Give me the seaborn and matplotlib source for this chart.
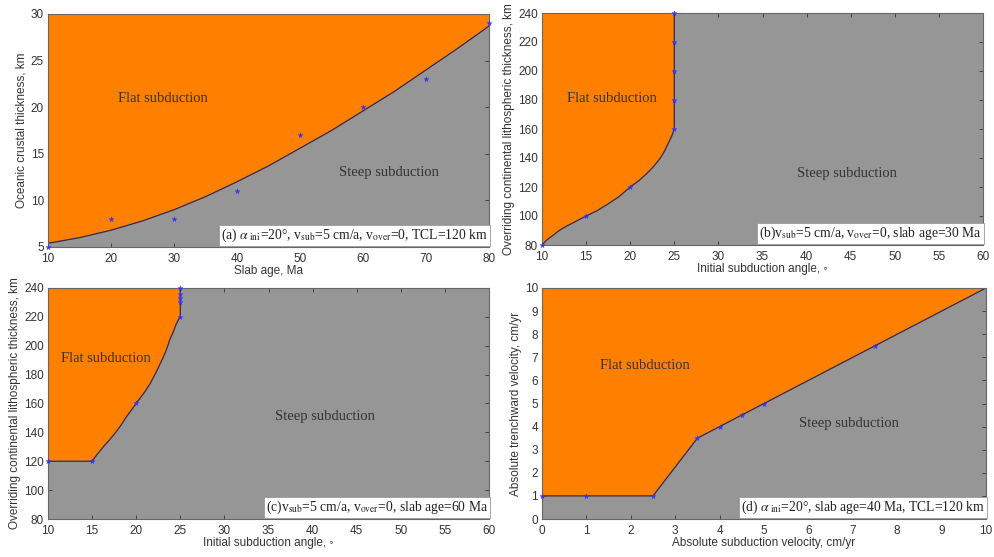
import numpy as np
import pandas as pd
import matplotlib
matplotlib.use("Agg")
import matplotlib.pyplot as plt
import seaborn as sns

sns.set_style("ticks")
plt.rcParams["font.family"] = ["Liberation Sans", "DejaVu Sans"]
plt.rcParams["mathtext.fontset"] = "stix"

ORANGE = "#ff8000"
GREY = "#969696"
LINE = "#2a2a60"
STAR = "#3333ff"

# (a) slab age vs oceanic crust thickness
a_age = [10, 20, 30, 40, 50, 60, 70, 80]
a_thick = [5, 8, 8, 11, 17, 20, 23, 29]
a_fit_x = [10, 15, 20, 25, 30, 35, 40, 45, 50, 55, 60, 65, 70, 75, 80]
a_fit_y = [5.4, 6.0, 6.8, 7.8, 9.0, 10.4, 12.0, 13.7, 15.6, 17.5, 19.6, 21.7, 24.0, 26.3, 28.7]

# (b) initial angle vs overriding lithosphere thickness, slab age 30 Ma
b_ang = [10, 15, 20, 25, 25, 25, 25, 25]
b_thick = [80, 100, 120, 160, 180, 200, 220, 240]
b_fit_x = [10, 10.6, 11.3, 12.0, 12.8, 13.9, 15, 16.2, 17.3, 18.7, 20, 21.0, 21.9, 22.7, 23.4, 23.9, 24.3, 24.7, 25, 25]
b_fit_y = [80, 83.8, 86.9, 90.2, 93.1, 96.5, 100, 103.5, 107.6, 113.2, 120, 124.5, 129.4, 134.5, 139.8, 144.8, 150, 155, 160, 240]

# (c) same, slab age 60 Ma
c_ang = [10, 15, 20, 25, 25, 25, 25, 25]
c_thick = [120, 120, 160, 220, 230, 233, 236, 240]
c_fit_x = [10, 15, 15.6, 16.3, 17.0, 17.6, 18.3, 18.9, 19.5, 20, 20.5, 21.0, 21.6, 22.1, 22.6, 23.1, 23.5, 23.8, 24.2, 24.5, 24.8, 25, 25]
c_fit_y = [120, 120, 125, 130.2, 135, 139.4, 145.2, 150.9, 155.8, 160.2, 164.2, 168.3, 174, 179.8, 186, 192.5, 198.5, 204.1, 209.5, 214.5, 218.2, 220.2, 240]

# (d) subduction velocity vs trenchward velocity
d_vsub = [0, 1, 2.5, 3.5, 4, 4.5, 5, 7.5]
d_vtr = [1, 1, 1, 3.5, 4, 4.5, 5, 7.5]
d_fit_x = [0, 2.5, 3.5, 10]
d_fit_y = [1, 1, 3.5, 10]

fig = plt.figure(figsize=(9.94, 5.57), dpi=100)
W, H = 994, 557


def make_ax(l, t, r, b):
    return fig.add_axes([l / W, 1 - b / H, (r - l) / W, (b - t) / H])


ax_a = make_ax(48, 14, 489, 247)
ax_b = make_ax(542, 13, 983, 245)
ax_c = make_ax(48, 288, 489, 519)
ax_d = make_ax(542, 288, 986, 519)

serif = ["Liberation Serif", "DejaVu Serif"]


def style(ax, xlim, ylim, xt, yt, xlabel, ylabel):
    ax.set_facecolor(GREY)
    ax.set_xlim(*xlim)
    ax.set_ylim(*ylim)
    ax.set_xticks(xt)
    ax.set_yticks(yt)
    ax.tick_params(direction="in", length=3, width=0.6, labelsize=8.5, colors="#333333",
                   top=True, right=True)
    ax.tick_params(axis="x", pad=4)
    ax.tick_params(axis="y", pad=3)
    for s in ax.spines.values():
        s.set_color("#666666")
        s.set_linewidth(0.8)
    ax.set_xlabel(xlabel, fontsize=8.5, color="#333333", labelpad=0)
    ax.set_ylabel(ylabel, fontsize=8.5, color="#333333", labelpad=2)


def boundary(ax, fx, fy, px, py):
    df = pd.DataFrame({"x": fx, "y": fy})
    sns.lineplot(data=df, x="x", y="y", sort=False, estimator=None, color=LINE,
                 linewidth=0.9, ax=ax)
    pts = pd.DataFrame({"x": px, "y": py})
    sns.scatterplot(data=pts, x="x", y="y", marker="*", s=14, color=STAR,
                    edgecolor=STAR, linewidth=0.3, ax=ax, zorder=5, clip_on=False)


def labels(ax, flat, steep, note):
    kw = dict(fontsize=10.5, family=serif, color="#333333", ha="center", va="center")
    ax.text(*flat, "Flat subduction", **kw)
    ax.text(*steep, "Steep subduction", **kw)
    ax.text(0.997, 0.012, note, transform=ax.transAxes, ha="right", va="bottom",
            fontsize=9.8, family=serif, color="#222222", zorder=6,
            bbox=dict(boxstyle="square,pad=0.15", fc="white", ec="#999999", lw=0.6))


# (a)
ax_a.fill_between(a_fit_x, a_fit_y, 30, color=ORANGE, linewidth=0)
boundary(ax_a, a_fit_x, a_fit_y, a_age, a_thick)
style(ax_a, (10, 80), (5, 30), range(10, 81, 10), range(5, 31, 5),
      "Slab age, Ma", "Oceanic crustal thickness, km")
labels(ax_a, (28.3, 20.9), (64.1, 13.0),
       r"(a) $\alpha_{\ \rm ini}$=20°, v$_{\rm sub}$=5 cm/a, v$_{\rm over}$=0, TCL=120 km")

# (b)
ax_b.fill_betweenx(b_fit_y, 10, b_fit_x, color=ORANGE, linewidth=0)
boundary(ax_b, b_fit_x, b_fit_y, b_ang, b_thick)
style(ax_b, (10, 60), (80, 240), range(10, 61, 5), range(80, 241, 20),
      "Initial subduction angle, ◦", "Overriding continental lithospheric thickness, km")
labels(ax_b, (17.9, 181), (44.6, 129),
       r"(b)v$_{\rm sub}$=5 cm/a, v$_{\rm over}$=0, slab age=30 Ma")

# (c)
ax_c.fill_betweenx(c_fit_y[1:], 10, c_fit_x[1:], color=ORANGE, linewidth=0)
boundary(ax_c, c_fit_x, c_fit_y, c_ang, c_thick)
style(ax_c, (10, 60), (80, 240), range(10, 61, 5), range(80, 241, 20),
      "Initial subduction angle, ◦", "Overriding continental lithospheric thickness, km")
labels(ax_c, (16.55, 191.4), (41.4, 151),
       r"(c)v$_{\rm sub}$=5 cm/a, v$_{\rm over}$=0, slab age=60 Ma")

# (d)
ax_d.fill_between(d_fit_x, d_fit_y, 10, color=ORANGE, linewidth=0)
boundary(ax_d, d_fit_x, d_fit_y, d_vsub, d_vtr)
style(ax_d, (0, 10), (0, 10), range(0, 11), range(0, 11),
      "Absolute subduction velocity, cm/yr", "Absolute trenchward velocity, cm/yr")
labels(ax_d, (2.32, 6.65), (6.91, 4.15),
       r"(d) $\alpha_{\ \rm ini}$=20°, slab age=40 Ma, TCL=120 km")

fig.savefig("out.png", dpi=100)
